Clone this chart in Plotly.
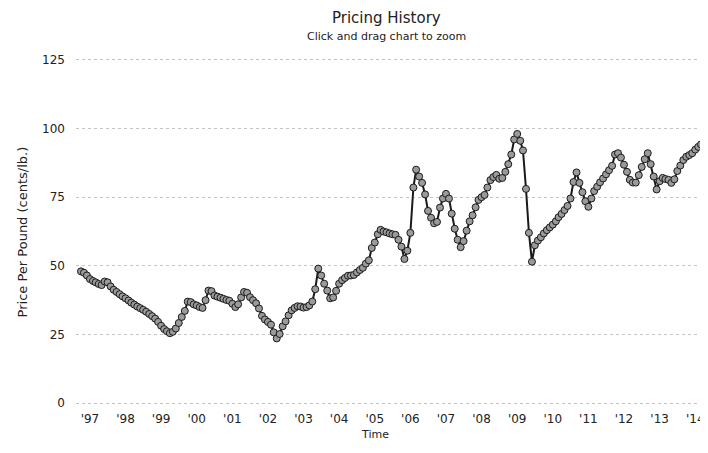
import pandas as pd
import plotly.graph_objects as go

# Monthly pricing history (cents per pound), Oct 1996 - Jul 2014
start_month = "1996-10-01"
prices = [
    48.0, 47.5, 46.5,                                                   # Oct-Dec 1996
    45.2, 44.5, 44.0, 43.4, 43.0, 44.3, 44.0, 42.5, 41.3, 40.5, 39.7, 38.9,  # 1997
    38.2, 37.4, 36.6, 35.9, 35.2, 34.6, 34.0, 33.3, 32.5, 31.7, 30.8, 29.6,  # 1998
    28.2, 27.0, 26.2, 25.5, 26.0, 27.2, 29.2, 31.4, 33.6, 37.0, 36.8, 36.0,  # 1999
    35.6, 35.0, 34.7, 37.5, 41.0, 40.8, 39.2, 38.8, 38.4, 38.0, 37.6, 37.3,  # 2000
    36.2, 35.0, 36.0, 38.5, 40.5, 40.2, 38.6, 37.5, 36.4, 34.5, 31.8, 30.5,  # 2001
    29.6, 28.6, 25.8, 23.6, 25.2, 28.0, 29.8, 32.0, 33.8, 34.7, 35.3, 35.2,  # 2002
    34.8, 35.0, 35.6, 37.0, 41.5, 49.0, 46.5, 43.5, 41.0, 38.2, 38.5, 40.9,  # 2003
    43.5, 44.8, 45.6, 46.4, 46.5, 46.7, 47.6, 48.5, 49.3, 50.8, 52.0, 56.5,  # 2004
    58.5, 61.5, 63.1, 62.5, 62.2, 61.8, 61.5, 61.3, 59.5, 57.0, 52.5, 55.5,  # 2005
    62.0, 78.5, 85.0, 82.5, 80.2, 76.0, 70.0, 67.5, 65.5, 66.0, 71.2, 74.5,  # 2006
    76.2, 74.5, 69.0, 63.5, 59.5, 56.8, 59.0, 62.8, 66.2, 68.4, 71.3, 74.0,  # 2007
    75.0, 75.8, 78.5, 81.2, 82.3, 83.1, 81.7, 82.0, 84.2, 87.0, 90.5, 96.0,  # 2008
    98.0, 95.5, 92.0, 78.0, 62.0, 51.5, 57.5, 59.2, 60.4, 61.8, 63.0, 64.0,  # 2009
    65.0, 66.2, 67.7, 68.9, 70.3, 71.8, 74.5, 80.5, 84.0, 80.2, 76.8, 73.5,  # 2010
    71.5, 74.5, 77.2, 78.8, 80.4, 81.8, 83.3, 84.8, 86.4, 90.5, 91.0, 89.4,  # 2011
    86.8, 84.2, 81.3, 80.3, 80.3, 83.0, 86.0, 88.8, 91.0, 87.0, 82.5, 77.8,  # 2012
    80.8, 82.0, 81.6, 81.3, 80.2, 81.5, 84.5, 86.5, 88.5, 89.7, 90.3, 91.0,  # 2013
    92.3, 93.3, 94.2, 94.0, 93.8, 94.5, 95.3,                                # 2014
]
year_ticks = list(range(1997, 2015))
year_labels = ["'%02d" % (y % 100) for y in year_ticks]
y_ticks = [0, 25, 50, 75, 100, 125]

dates = pd.date_range(start_month, periods=len(prices), freq="MS")
tick_dates = [pd.Timestamp(year=y, month=1, day=1) for y in year_ticks]

fig = go.Figure()
fig.add_trace(go.Scatter(
    x=dates, y=prices, mode="lines+markers",
    line=dict(color="#1a1a1a", width=2),
    marker=dict(size=7, color="#9a9a9a", line=dict(color="#1a1a1a", width=1)),
    showlegend=False,
))

font = "DejaVu Sans"
fig.update_layout(
    width=708, height=453,
    margin=dict(l=68, r=0, t=49, b=55),
    paper_bgcolor="white", plot_bgcolor="white",
    font=dict(family=font, color="#222"),
    xaxis=dict(
        range=["1996-08-11", "2014-08-02"],
        tickmode="array", tickvals=tick_dates, ticktext=year_labels,
        showgrid=False, zeroline=False, showline=False,
        tickfont=dict(size=12, color="#222"),
        ticklabelstandoff=4,
    ),
    yaxis=dict(
        range=[-1, 126],
        tickmode="array", tickvals=y_ticks,
        showgrid=True, gridcolor="#c4c4c4", griddash="dot", gridwidth=1,
        zeroline=False, showline=False,
        tickfont=dict(size=12, color="#222"),
        ticklabelstandoff=10,
    ),
    annotations=[
        dict(text="Pricing History", xref="paper", yref="paper", x=0.485, y=1.113,
             showarrow=False, font=dict(size=15, color="#222", family=font),
             xanchor="center", yanchor="middle"),
        dict(text="Click and drag chart to zoom", xref="paper", yref="paper", x=0.485, y=1.058,
             showarrow=False, font=dict(size=11, color="#222", family=font),
             xanchor="center", yanchor="middle"),
        dict(text="Time", xref="paper", yref="paper", x=0.467, y=-0.083,
             showarrow=False, font=dict(size=11, color="#222", family=font),
             xanchor="center", yanchor="middle"),
        dict(text="Price Per Pound (cents/lb.)", xref="paper", yref="paper", x=-0.083, y=0.5,
             showarrow=False, textangle=-90, font=dict(size=13, color="#222", family=font),
             xanchor="center", yanchor="middle"),
    ],
)

fig.write_html("out.html")
